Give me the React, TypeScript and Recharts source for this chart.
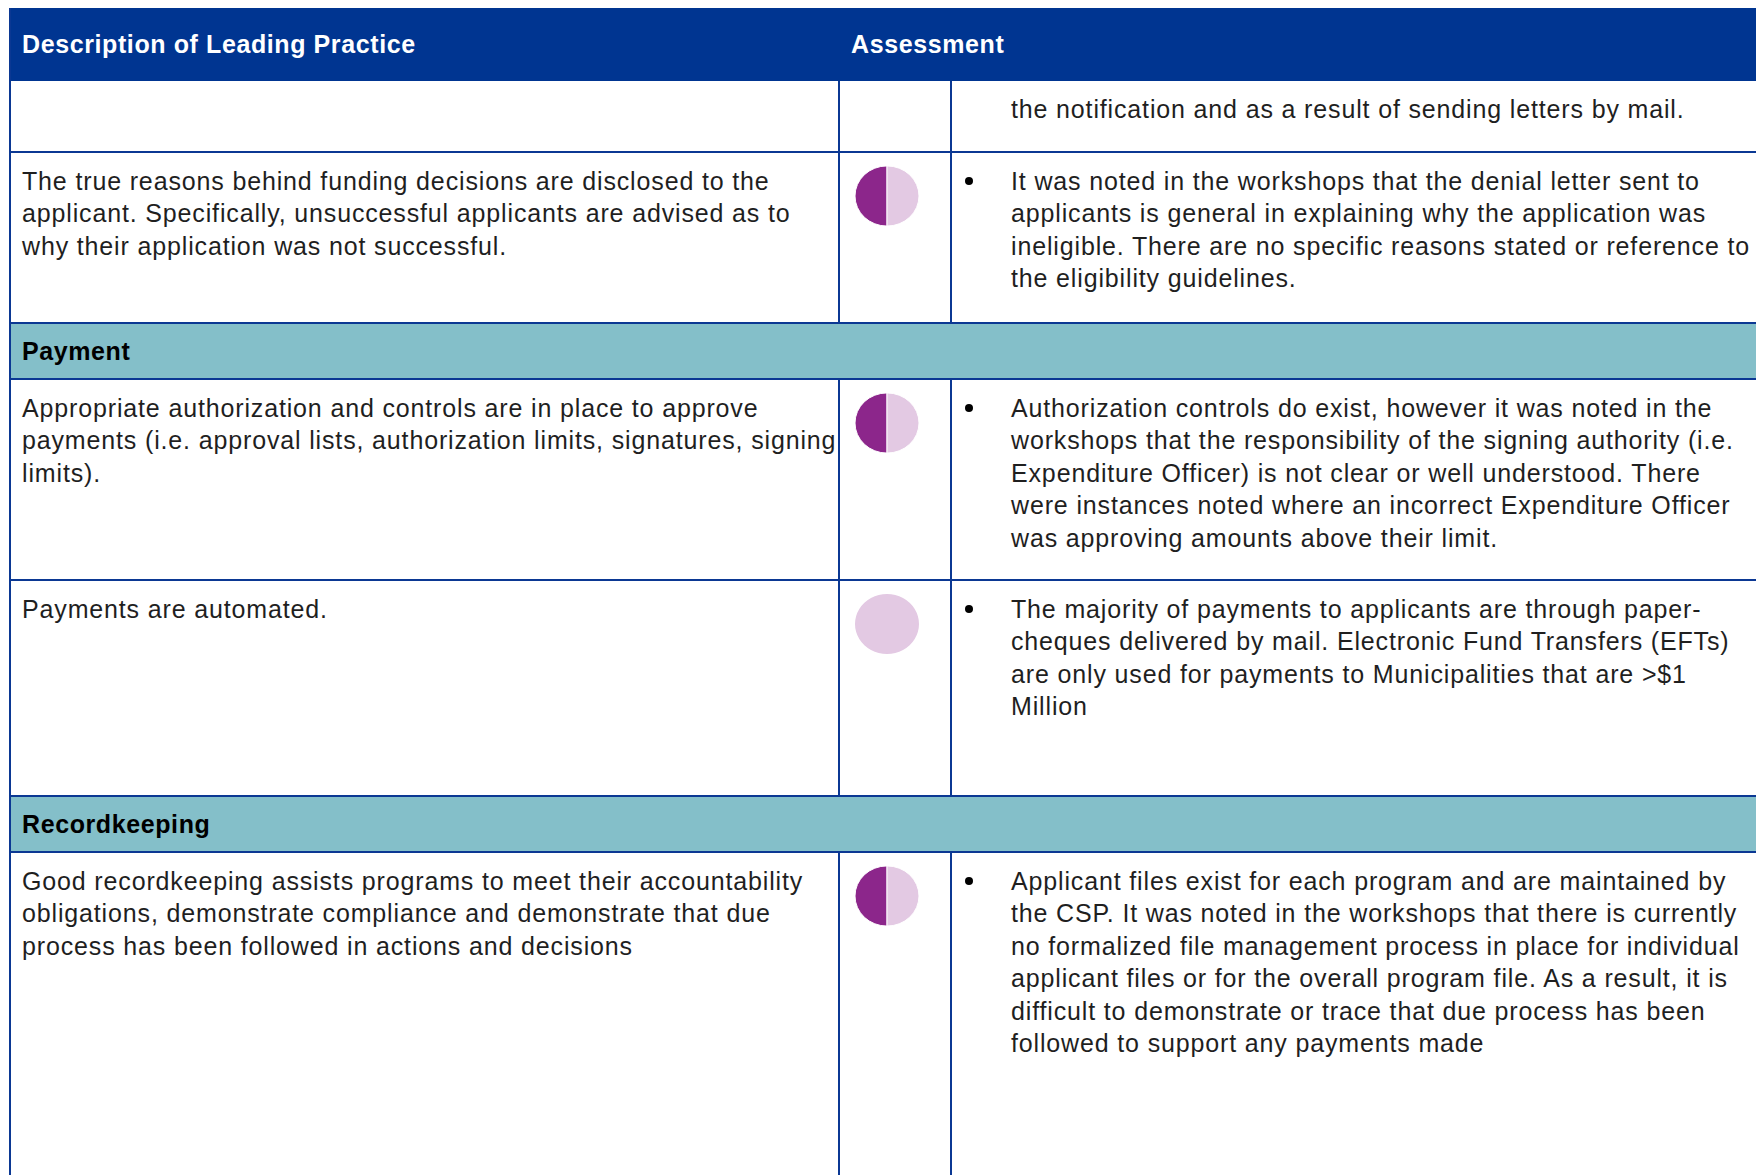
import { PieChart, Pie, Cell } from 'recharts';

// Table content, row by row (null score = no ball shown)
const practiceLines: string[][] = [
  [],
  [
    'The true reasons behind funding decisions are disclosed to the',
    'applicant. Specifically, unsuccessful applicants are advised as to',
    'why their application was not successful.',
  ],
  [
    'Appropriate authorization and controls are in place to approve',
    'payments (i.e. approval lists, authorization limits, signatures, signing',
    'limits).',
  ],
  ['Payments are automated.'],
  [
    'Good recordkeeping assists programs to meet their accountability',
    'obligations, demonstrate compliance and demonstrate that due',
    'process has been followed in actions and decisions',
  ],
];

// Harvey ball score, in quarters filled (0..4)
const scores: (number | null)[] = [null, 2, 2, 0, 2];

const findingLines: string[][] = [
  ['the notification and as a result of sending letters by mail.'],
  [
    'It was noted in the workshops that the denial letter sent to',
    'applicants is general in explaining why the application was',
    'ineligible. There are no specific reasons stated or reference to',
    'the eligibility guidelines.',
  ],
  [
    'Authorization controls do exist, however it was noted in the',
    'workshops that the responsibility of the signing authority (i.e.',
    'Expenditure Officer) is not clear or well understood. There',
    'were instances noted where an incorrect Expenditure Officer',
    'was approving amounts above their limit.',
  ],
  [
    'The majority of payments to applicants are through paper-',
    'cheques delivered by mail. Electronic Fund Transfers (EFTs)',
    'are only used for payments to Municipalities that are >$1',
    'Million',
  ],
  [
    'Applicant files exist for each program and are maintained by',
    'the CSP. It was noted in the workshops that there is currently',
    'no formalized file management process in place for individual',
    'applicant files or for the overall program file. As a result, it is',
    'difficult to demonstrate or trace that due process has been',
    'followed to support any payments made',
  ],
];

const bulleted = [false, true, true, true, true];

// section header rows inserted before the given row index
const sectionTitles: Record<number, string> = { 2: 'Payment', 4: 'Recordkeeping' };

const headerLabels = ['Description of Leading Practice', 'Assessment'];

// layout
const W = 1756;
const H = 1175;
const LEFT = 10;
const HEADER_TOP = 8;
const HEADER_H = 73;
const ROW_H = [71, 171, 201, 216, 420];
const SECTION_H = 56;
const COL1 = 839;
const COL2 = 951;
const LINE = '#0B3893';
const BLUE = '#003591';
const TEAL = '#84BFC9';
const DARK = '#8C268B';
const LIGHT = '#E3C9E3';
const TEXT = '#1f1f1f';
const FONT = '"Liberation Sans", Arial, sans-serif';
const FS = 25;
const LH = 32.4;

function HarveyBall({ score, x, y }: { score: number; x: number; y: number }) {
  const data = [
    { name: 'filled', value: score },
    { name: 'empty', value: 4 - score },
  ];
  return (
    <div style={{ position: 'absolute', left: x - 35, top: y - 35, width: 70, height: 70, transform: 'scaleY(0.94)' }}>
      <PieChart width={70} height={70}>
        <Pie
          data={data}
          dataKey="value"
          cx="50%"
          cy="50%"
          outerRadius={32}
          startAngle={90}
          endAngle={450}
          stroke="#ffffff"
          strokeWidth={score > 0 && score < 4 ? 1 : 0}
          isAnimationActive={false}
        >
          {data.map((d, i) => (
            <Cell key={`c-${i}`} fill={i === 0 ? DARK : LIGHT} />
          ))}
        </Pie>
      </PieChart>
    </div>
  );
}

function Lines({ lines, x, y }: { lines: string[]; x: number; y: number }) {
  return (
    <div style={{ position: 'absolute', left: x, top: y, fontSize: FS, lineHeight: `${LH}px`, letterSpacing: 0.85, color: TEXT, whiteSpace: 'nowrap' }}>
      {lines.map((l, i) => (
        <div key={i}>{l}</div>
      ))}
    </div>
  );
}

const boldLabel = { position: 'absolute' as const, top: 0, fontSize: FS, fontWeight: 700, letterSpacing: 0.6, whiteSpace: 'nowrap' as const };

export default function App() {
  const els: any[] = [];
  let y = HEADER_TOP + HEADER_H;
  const hLines: number[] = [];
  const vSegments: [number, number][] = [];

  ROW_H.forEach((h, i) => {
    if (sectionTitles[i]) {
      hLines.push(y);
      els.push(
        <div key={`s-${i}`} style={{ position: 'absolute', left: LEFT, top: y, width: W - LEFT, height: SECTION_H, background: TEAL }}>
          <div style={{ ...boldLabel, left: 12, lineHeight: `${SECTION_H}px`, color: '#000' }}>{sectionTitles[i]}</div>
        </div>
      );
      y += SECTION_H;
    }
    const top = y;
    if (i > 0) hLines.push(top);
    vSegments.push([top, Math.min(top + h, H)]);
    els.push(<Lines key={`p-${i}`} lines={practiceLines[i]} x={22} y={top + 13} />);
    const sc = scores[i];
    if (sc !== null) els.push(<HarveyBall key={`b-${i}`} score={sc} x={887} y={top + 44} />);
    if (bulleted[i]) {
      els.push(
        <div key={`d-${i}`} style={{ position: 'absolute', left: 965, top: top + 25, width: 8, height: 8, borderRadius: 4, background: '#000' }} />
      );
    }
    els.push(<Lines key={`f-${i}`} lines={findingLines[i]} x={1011} y={top + (i === 0 ? 12 : 13)} />);
    y += h;
  });

  return (
    <div style={{ position: 'fixed', left: 0, top: 0, width: W, height: H, overflow: 'hidden', background: '#fff', fontFamily: FONT }}>
      <div style={{ position: 'absolute', left: LEFT, top: HEADER_TOP, width: W - LEFT, height: HEADER_H, background: BLUE }}>
        <div style={{ ...boldLabel, left: 12, lineHeight: `${HEADER_H}px`, color: '#fff' }}>{headerLabels[0]}</div>
        <div style={{ ...boldLabel, left: COL1 + 12 - LEFT, lineHeight: `${HEADER_H}px`, color: '#fff' }}>{headerLabels[1]}</div>
      </div>
      {els}
      {hLines.map((hy, i) => (
        <div key={`h-${i}`} style={{ position: 'absolute', left: LEFT, top: hy - 1, width: W - LEFT, height: 2, background: LINE }} />
      ))}
      {vSegments.map(([a, b], i) => (
        <div key={`v-${i}`}>
          <div style={{ position: 'absolute', left: COL1 - 1, top: a, width: 2, height: b - a, background: LINE }} />
          <div style={{ position: 'absolute', left: COL2 - 1, top: a, width: 2, height: b - a, background: LINE }} />
        </div>
      ))}
      <div style={{ position: 'absolute', left: LEFT - 1, top: HEADER_TOP, width: 2, height: H - HEADER_TOP, background: LINE }} />
    </div>
  );
}
